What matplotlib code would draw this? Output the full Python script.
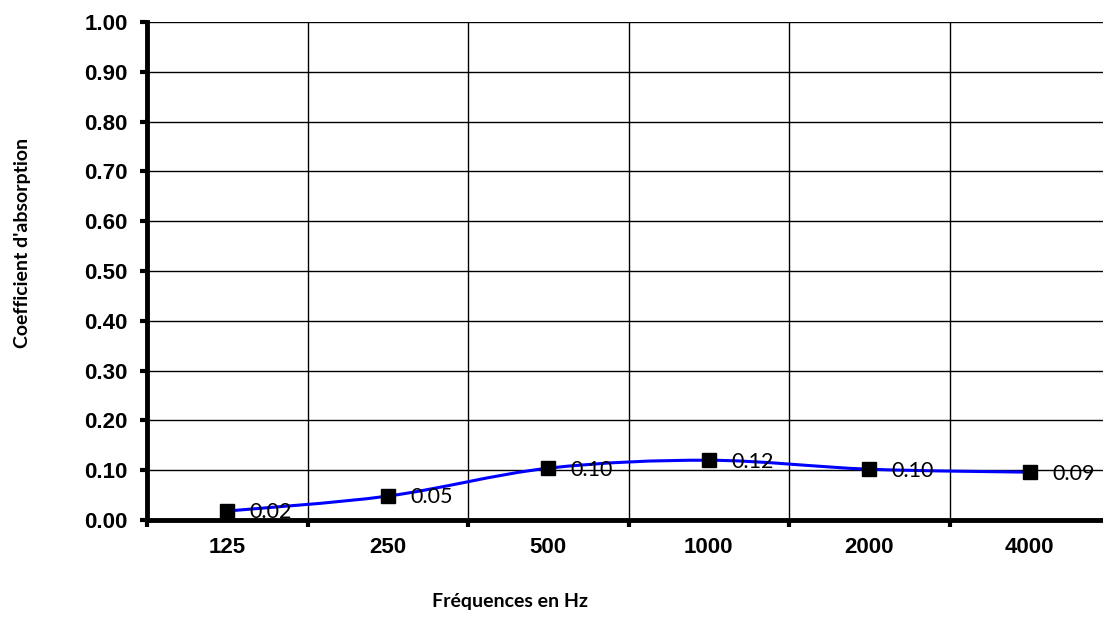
import matplotlib
matplotlib.use("Agg")
import matplotlib.pyplot as plt
from matplotlib import font_manager as fm
from matplotlib.path import Path
from matplotlib.patches import PathPatch
import numpy as np

# data
frequences = ["125", "250", "500", "1000", "2000", "4000"]
absorption = [0.018, 0.048, 0.104, 0.120, 0.102, 0.096]
etiquettes = ["0.02", "0.05", "0.10", "0.12", "0.10", "0.09"]
y_ticks = [0.0, 0.1, 0.2, 0.3, 0.4, 0.5, 0.6, 0.7, 0.8, 0.9, 1.0]


def arial_bold(size):
    # pick the regular-width Liberation Sans Bold file
    for f in fm.fontManager.ttflist:
        if f.fname.endswith("LiberationSans-Bold.ttf"):
            return fm.FontProperties(fname=f.fname, size=size)
    return fm.FontProperties(family="sans-serif", weight="bold", size=size)


tick_font = arial_bold(16)

fig = plt.figure(figsize=(11.03, 6.17), dpi=100)
ax = fig.add_axes([147 / 1103, 97 / 617, 963 / 1103, 498 / 617])

x = np.arange(len(frequences))
y = np.array(absorption)

# smoothed line (Excel style), Catmull-Rom as cubic Bezier segments
verts = [(x[0], y[0])]
codes = [Path.MOVETO]
n = len(x)
for i in range(n - 1):
    p0 = (x[max(i - 1, 0)], y[max(i - 1, 0)])
    p1 = (x[i], y[i])
    p2 = (x[i + 1], y[i + 1])
    p3 = (x[min(i + 2, n - 1)], y[min(i + 2, n - 1)])
    c1 = (p1[0] + (p2[0] - p0[0]) / 6, p1[1] + (p2[1] - p0[1]) / 6)
    c2 = (p2[0] - (p3[0] - p1[0]) / 6, p2[1] - (p3[1] - p1[1]) / 6)
    verts += [c1, c2, p2]
    codes += [Path.CURVE4] * 3
ax.add_patch(PathPatch(Path(verts, codes), facecolor="none",
                       edgecolor="#0000ff", lw=2.2, zorder=3))
ax.plot(x, y, linestyle="none", marker="s", markersize=9.5,
        color="black", zorder=4)

for xi, yi, lab in zip(x, y, etiquettes):
    ax.annotate(lab, (xi, yi), xytext=(16, -1), textcoords="offset points",
                ha="left", va="center", fontsize=15.5, family="Lato", zorder=5)

ax.set_xlim(-0.5, n - 0.5)
ax.set_ylim(0, 1.0)
ax.set_yticks(y_ticks)
ax.set_yticklabels([f"{v:.2f}" for v in y_ticks], fontproperties=tick_font)

# category labels in the middle, ticks on the boundaries
ax.set_xticks(np.arange(n + 1) - 0.5)
ax.set_xticklabels([])
ax.set_xticks(x, minor=True)
ax.set_xticklabels(frequences, minor=True, fontproperties=tick_font)
ax.tick_params(axis="x", which="minor", length=0, pad=12)
ax.tick_params(axis="x", which="major", length=5, width=3, direction="out")
ax.tick_params(axis="y", length=5, width=3, direction="out", pad=9)

ax.grid(True, which="major", color="black", lw=1)
ax.set_axisbelow(True)
for s in ["top", "right"]:
    ax.spines[s].set_visible(False)
ax.spines["left"].set_linewidth(3.5)
ax.spines["bottom"].set_linewidth(3.5)

fig.text(23 / 1103, 1 - 243 / 617, "Coefficient d'absorption", rotation=90,
         ha="center", va="center", fontsize=14, fontweight="bold",
         family="Lato")
fig.text(510 / 1103, 1 - 602 / 617, "Fréquences en Hz", ha="center",
         va="center", fontsize=14, fontweight="bold", family="Lato")

fig.savefig("out.png", dpi=100)
